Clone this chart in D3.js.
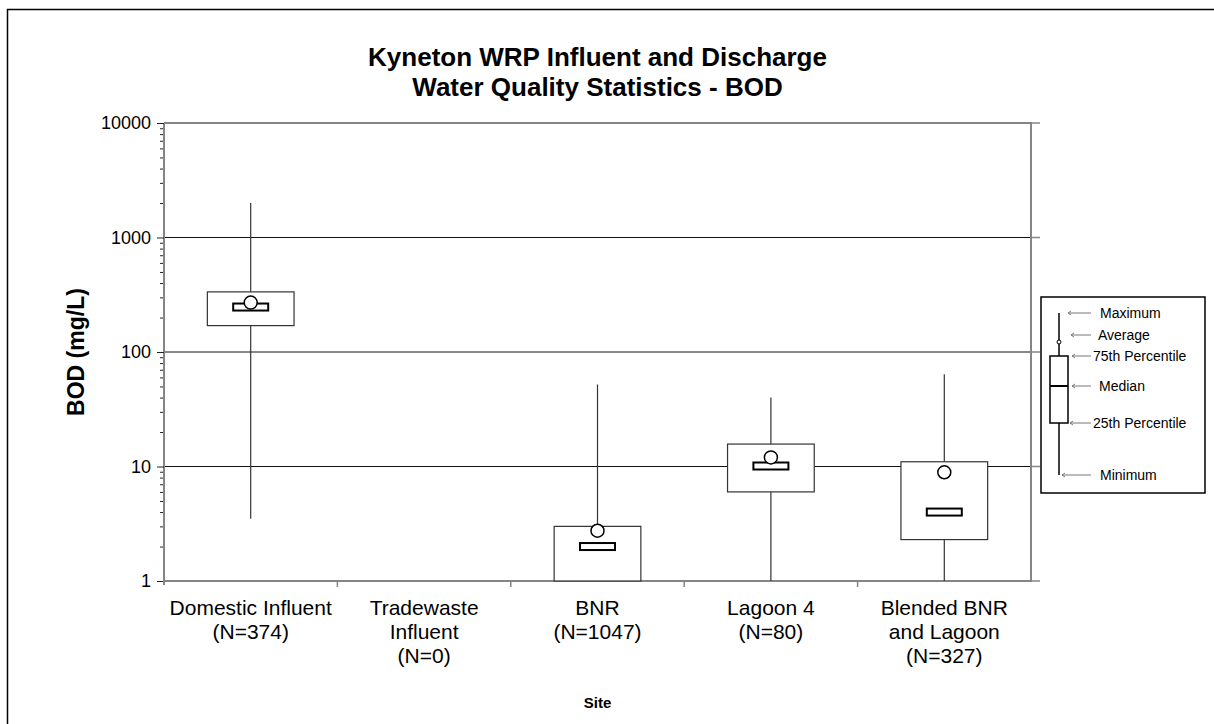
<!DOCTYPE html>
<html>
<head>
<meta charset="utf-8">
<script src="https://cdn.jsdelivr.net/npm/d3@7"></script>
<style>
  body { margin: 0; background: #fff; }
  svg { display: block; font-family: "Liberation Sans", Arial, sans-serif; }
</style>
</head>
<body>
<div class="chart"></div>
<script>
// site names, split over lines as in the original axis
var sites = ["Domestic Influent", "Tradewaste Influent", "BNR", "Lagoon 4", "Blended BNR and Lagoon"];
var siteLines = [
  ["Domestic Influent", "(N=374)"],
  ["Tradewaste", "Influent", "(N=0)"],
  ["BNR", "(N=1047)"],
  ["Lagoon 4", "(N=80)"],
  ["Blended BNR", "and Lagoon", "(N=327)"]
];
var minimum = [3.5, null, 1, 1, 1];
var pct25   = [170, null, 1, 6, 2.3];
var median  = [247, null, 2.0, 10.1, 4.0];
var pct75   = [335, null, 3.0, 15.7, 11];
var maximum = [2000, null, 52, 40, 64];
var average = [270, null, 2.75, 12, 8.9];
var yTicks = [1, 10, 100, 1000, 10000];

function boxChart() {

  var width = 1214, height = 724;
  var left = 164, right = 1031, plotTop = 123, plotBottom = 581;
  var axisGrey = "#858585";

  var svg = d3.select(".chart").append("svg")
      .attr("width", width)
      .attr("height", height);

  // outer chart border (runs off the picture at right and bottom)
  svg.append("rect")
      .attr("x", 7.5).attr("y", 9.5)
      .attr("width", width + 20).attr("height", height + 20)
      .attr("fill", "none").attr("stroke", "#000").attr("stroke-width", 1.5);

  var x = d3.scaleBand().domain(sites).range([left, right]).padding(0);
  var y = d3.scaleLog().domain([1, 10000]).range([plotBottom, plotTop]);

  var data = sites.map(function(s, i) {
    return {site: s, min: minimum[i], q1: pct25[i], med: median[i], q3: pct75[i], max: maximum[i], avg: average[i]};
  });

  // gridlines
  svg.append("g").selectAll("line")
      .data(yTicks.slice(1, -1))
      .enter().append("line")
      .attr("x1", left).attr("x2", right)
      .attr("y1", function(d) { return y(d); })
      .attr("y2", function(d) { return y(d); })
      .attr("stroke", "#111").attr("stroke-width", 1);

  // right-side tick stubs
  svg.append("g").selectAll("line")
      .data(yTicks)
      .enter().append("line")
      .attr("x1", right).attr("x2", right + 9)
      .attr("y1", function(d) { return y(d); })
      .attr("y2", function(d) { return y(d); })
      .attr("stroke", axisGrey).attr("stroke-width", 1.5);

  // frame: top and right
  svg.append("line").attr("x1", left).attr("x2", right + 1).attr("y1", plotTop).attr("y2", plotTop)
      .attr("stroke", axisGrey).attr("stroke-width", 2);
  svg.append("line").attr("x1", right).attr("x2", right).attr("y1", plotTop).attr("y2", plotBottom)
      .attr("stroke", axisGrey).attr("stroke-width", 2);

  // y axis, major and minor
  var minorTicks = [];
  for (var dec = 1; dec < 10000; dec *= 10) {
    for (var m = 2; m <= 9; m++) minorTicks.push(dec * m);
  }
  var yMinor = svg.append("g")
      .attr("transform", "translate(" + left + ",0)")
      .call(d3.axisLeft(y).tickValues(minorTicks).tickSize(4).tickFormat(""));
  var yAxis = svg.append("g")
      .attr("transform", "translate(" + left + ",0)")
      .call(d3.axisLeft(y).tickValues(yTicks).tickSize(7).tickPadding(6).tickFormat(d3.format("d")));
  yMinor.select(".domain").remove();
  [yMinor, yAxis].forEach(function(g) {
    g.selectAll("line").attr("stroke", "#222").attr("stroke-width", 1);
  });
  yAxis.select(".domain").attr("stroke", axisGrey).attr("stroke-width", 2)
      .attr("d", "M0," + plotTop + "V" + (plotBottom + 4));
  yAxis.selectAll("text").attr("font-size", 18).attr("fill", "#000")
      .attr("font-family", "Liberation Sans, Arial, sans-serif");

  // x axis
  var xAxis = svg.append("g")
      .attr("transform", "translate(0," + plotBottom + ")");
  xAxis.append("line").attr("x1", left - 1).attr("x2", right + 1).attr("y1", 0).attr("y2", 0)
      .attr("stroke", axisGrey).attr("stroke-width", 2);
  xAxis.selectAll(".sep")
      .data(sites.slice(1))
      .enter().append("line")
      .attr("class", "sep")
      .attr("x1", function(d) { return x(d); })
      .attr("x2", function(d) { return x(d); })
      .attr("y1", 0).attr("y2", 6)
      .attr("stroke", axisGrey).attr("stroke-width", 1.5);

  var labels = xAxis.selectAll(".lab")
      .data(sites)
      .enter().append("text")
      .attr("class", "lab")
      .attr("text-anchor", "middle")
      .attr("font-size", 21)
      .attr("transform", function(d) { return "translate(" + (x(d) + x.bandwidth() / 2) + ",0)"; });
  labels.selectAll("tspan")
      .data(function(d, i) { return siteLines[i]; })
      .enter().append("tspan")
      .attr("x", 0)
      .attr("y", function(d, j) { return 34 + j * 24; })
      .text(function(d) { return d; });

  // boxes
  var boxW = x.bandwidth() * 0.5;
  var box = svg.append("g").selectAll("g")
      .data(data.filter(function(d) { return d.med != null; }))
      .enter().append("g")
      .attr("transform", function(d) { return "translate(" + (x(d.site) + x.bandwidth() / 2) + ",0)"; });

  box.append("line")
      .attr("x1", 0).attr("x2", 0)
      .attr("y1", function(d) { return y(d.min); })
      .attr("y2", function(d) { return y(d.max); })
      .attr("stroke", "#333").attr("stroke-width", 1.2);

  box.append("rect")
      .attr("x", -boxW / 2)
      .attr("width", boxW)
      .attr("y", function(d) { return y(d.q3); })
      .attr("height", function(d) { return y(d.q1) - y(d.q3); })
      .attr("fill", "#fff").attr("stroke", "#333").attr("stroke-width", 1.2);

  box.append("rect")
      .attr("x", -17.5).attr("width", 35)
      .attr("y", function(d) { return y(d.med) - 3.5; })
      .attr("height", 7)
      .attr("fill", "#fff").attr("stroke", "#000").attr("stroke-width", 2);

  box.append("circle")
      .attr("cx", 0)
      .attr("cy", function(d) { return y(d.avg); })
      .attr("r", 6.5)
      .attr("fill", "#fff").attr("stroke", "#000").attr("stroke-width", 1.5);

  // titles
  svg.append("text")
      .attr("x", (left + right) / 2).attr("y", 66)
      .attr("text-anchor", "middle").attr("font-size", 26).attr("font-weight", "bold")
      .text("Kyneton WRP Influent and Discharge");
  svg.append("text")
      .attr("x", (left + right) / 2).attr("y", 96)
      .attr("text-anchor", "middle").attr("font-size", 26).attr("font-weight", "bold")
      .text("Water Quality Statistics - BOD");
  svg.append("text")
      .attr("transform", "translate(84," + (plotTop + plotBottom) / 2 + ") rotate(-90)")
      .attr("text-anchor", "middle").attr("font-size", 23).attr("font-weight", "bold")
      .text("BOD (mg/L)");
  svg.append("text")
      .attr("x", (left + right) / 2).attr("y", 708)
      .attr("text-anchor", "middle").attr("font-size", 15).attr("font-weight", "bold")
      .text("Site");

  // key explaining the box symbol
  var key = svg.append("g");
  key.append("rect")
      .attr("x", 1041).attr("y", 297).attr("width", 164).attr("height", 196)
      .attr("fill", "#fff").attr("stroke", "#000").attr("stroke-width", 1.5);
  key.append("line").attr("x1", 1059).attr("x2", 1059).attr("y1", 313).attr("y2", 475)
      .attr("stroke", "#000").attr("stroke-width", 1.5);
  key.append("rect").attr("x", 1050).attr("y", 356).attr("width", 18).attr("height", 67)
      .attr("fill", "#fff").attr("stroke", "#000").attr("stroke-width", 1.5);
  key.append("line").attr("x1", 1050).attr("x2", 1068).attr("y1", 386).attr("y2", 386)
      .attr("stroke", "#000").attr("stroke-width", 2);
  key.append("circle").attr("cx", 1059).attr("cy", 342).attr("r", 2)
      .attr("fill", "#fff").attr("stroke", "#000").attr("stroke-width", 1);

  var keyItems = [
    {label: "Maximum", y: 313, x0: 1068, tx: 1100},
    {label: "Average", y: 335, x0: 1071, tx: 1098},
    {label: "75th Percentile", y: 356, x0: 1072, tx: 1093},
    {label: "Median", y: 386, x0: 1072, tx: 1099},
    {label: "25th Percentile", y: 423, x0: 1070, tx: 1093},
    {label: "Minimum", y: 475, x0: 1062, tx: 1100}
  ];
  var ki = key.selectAll(".ki").data(keyItems).enter().append("g").attr("class", "ki");
  ki.append("line")
      .attr("x1", function(d) { return d.x0; }).attr("x2", 1091)
      .attr("y1", function(d) { return d.y; }).attr("y2", function(d) { return d.y; })
      .attr("stroke", "#777").attr("stroke-width", 1);
  ki.append("path")
      .attr("d", function(d) { return "M" + (d.x0 + 3) + "," + (d.y - 2) + "L" + d.x0 + "," + d.y + "L" + (d.x0 + 3) + "," + (d.y + 2); })
      .attr("fill", "none").attr("stroke", "#777").attr("stroke-width", 1);
  ki.append("text")
      .attr("x", function(d) { return d.tx; })
      .attr("y", function(d) { return d.y + 5; })
      .attr("font-size", 14)
      .text(function(d) { return d.label; });
}

boxChart();
</script>
</body>
</html>
